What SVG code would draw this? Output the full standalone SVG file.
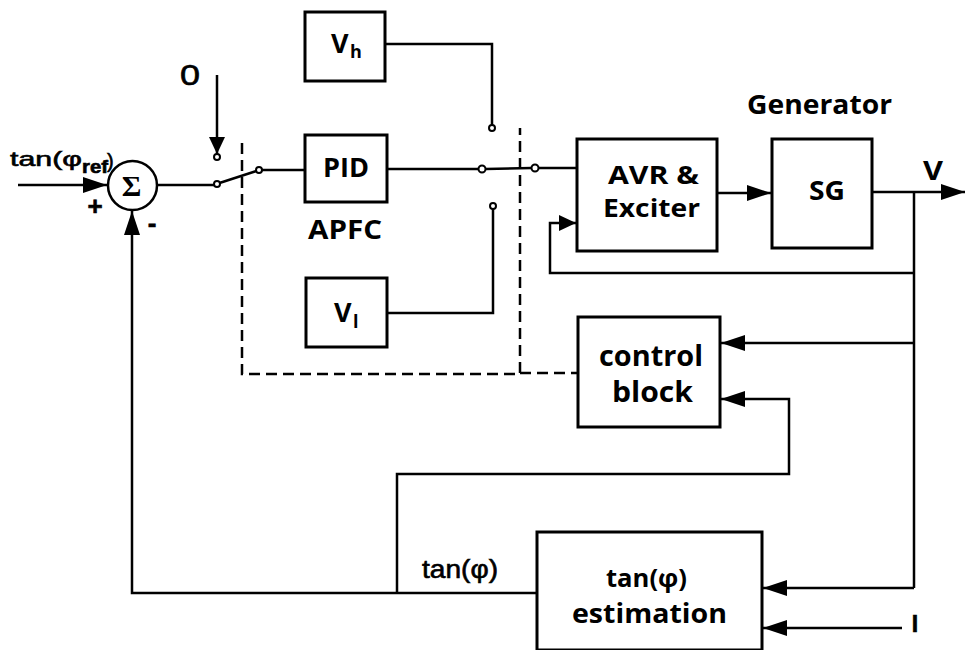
<svg xmlns="http://www.w3.org/2000/svg" width="965" height="650" viewBox="0 0 965 650">
<defs>
<style>
.box{fill:#fff;stroke:#000;stroke-width:3}
.ln{fill:none;stroke:#000;stroke-width:2.5}
.dash{fill:none;stroke:#000;stroke-width:2.5;stroke-dasharray:11 6}
.pt{fill:#fff;stroke:#000;stroke-width:2}
.lb{font-family:"Open Sans","DejaVu Sans",sans-serif;font-weight:bold;fill:#000}
.ar{font-family:"Liberation Sans",Arial,sans-serif;fill:#000;stroke:#000;stroke-width:0.6}
</style>
<marker id="a" markerUnits="userSpaceOnUse" markerWidth="24" markerHeight="16" refX="24" refY="8" orient="auto"><path d="M0,0 L24,8 L0,16 z" fill="#000"/></marker>
<marker id="s" markerUnits="userSpaceOnUse" markerWidth="17" markerHeight="16" refX="17" refY="8" orient="auto"><path d="M0,0 L17,8 L0,16 z" fill="#000"/></marker>
</defs>
<rect width="965" height="650" fill="#fff"/>

<g id="connectors">
<path class="ln" d="M18,185 H107" marker-end="url(#a)"/>
<path class="ln" d="M157,185 H214"/>
<path class="ln" d="M219.5,183 L256.5,171"/>
<path class="ln" d="M262,170 H305"/>
<path class="ln" d="M217,75 V154" marker-end="url(#s)"/>
<path class="ln" d="M387,169 H478.5"/>
<path class="ln" d="M485.5,169 L531.5,168"/>
<path class="ln" d="M538.5,168 H577"/>
<path class="ln" d="M385,44 H492 V125"/>
<path class="ln" d="M387,313 H493 V209"/>
<path class="ln" d="M717,193 H771" marker-end="url(#a)"/>
<path class="ln" d="M872,192 H965" marker-end="url(#a)"/>
<path class="ln" d="M914,192 V588"/>
<path class="ln" d="M914,273 H550 V223 H576" marker-end="url(#s)"/>
<path class="ln" d="M914,343 H721" marker-end="url(#a)"/>
<path class="ln" d="M397,593 V474 H789 V399 H721" marker-end="url(#a)"/>
<path class="ln" d="M914,588 H763" marker-end="url(#a)"/>
<path class="ln" d="M902,628 H763" marker-end="url(#a)"/>
<path class="ln" d="M537,593 H132 V211" marker-end="url(#a)"/>
<path class="dash" d="M242,143 V374 H520 V128 M520,373 H578"/>
</g>

<g id="switch-in">
<circle class="pt" cx="217" cy="157" r="3"/>
<circle class="pt" cx="217" cy="184" r="3"/>
<circle class="pt" cx="259" cy="170" r="3"/>
</g>
<g id="switch-out">
<circle class="pt" cx="492" cy="128" r="3"/>
<circle class="pt" cx="482" cy="169" r="3.5"/>
<circle class="pt" cx="535" cy="168" r="3.5"/>
<circle class="pt" cx="493" cy="206" r="3"/>
</g>

<g id="sum">
<circle cx="132.5" cy="185.5" r="24.5" fill="#fff" stroke="#000" stroke-width="2.5"/>
<text x="131.5" y="196" text-anchor="middle" font-family="'Liberation Serif',serif" font-weight="bold" font-size="30">Σ</text>
</g>

<g id="vh">
<rect class="box" x="305" y="12" width="80" height="69"/>
<text class="lb" x="331" y="53" font-size="27">V</text>
<text class="lb" x="350" y="58" font-size="18">h</text>
</g>
<g id="pid">
<rect class="box" x="305" y="135" width="82" height="67"/>
<text class="lb" x="323" y="177" font-size="27" textLength="46" lengthAdjust="spacingAndGlyphs">PID</text>
</g>
<g id="vl">
<rect class="box" x="306" y="278" width="81" height="69"/>
<text class="lb" x="334" y="322" font-size="27">V</text>
<text class="lb" x="353" y="328" font-size="18">l</text>
</g>
<text class="lb" x="308" y="239" font-size="26" textLength="74" lengthAdjust="spacingAndGlyphs">APFC</text>

<g id="avr">
<rect class="box" x="577" y="139" width="140" height="112"/>
<text class="lb" x="608" y="184" font-size="25" textLength="91" lengthAdjust="spacingAndGlyphs">AVR &amp;</text>
<text class="lb" x="603" y="217" font-size="25" textLength="97" lengthAdjust="spacingAndGlyphs">Exciter</text>
</g>
<g id="sg">
<rect class="box" x="772" y="139" width="100" height="109"/>
<text class="lb" x="809" y="200" font-size="27" textLength="36" lengthAdjust="spacingAndGlyphs">SG</text>
</g>
<text class="lb" x="747" y="114" font-size="27" textLength="145" lengthAdjust="spacingAndGlyphs">Generator</text>
<text class="lb" x="923" y="180" font-size="27" textLength="20" lengthAdjust="spacingAndGlyphs">V</text>

<g id="control">
<rect class="box" x="578" y="317" width="142" height="110"/>
<text class="lb" x="599" y="366" font-size="28" textLength="104" lengthAdjust="spacingAndGlyphs">control</text>
<text class="lb" x="612" y="402" font-size="28" textLength="81" lengthAdjust="spacingAndGlyphs">block</text>
</g>
<g id="estimation">
<rect class="box" x="537" y="532" width="225" height="118"/>
<text class="lb" x="606" y="587" font-size="25" textLength="81" lengthAdjust="spacingAndGlyphs">tan(φ)</text>
<text class="lb" x="572" y="623" font-size="26" textLength="155" lengthAdjust="spacingAndGlyphs">estimation</text>
</g>

<g id="labels">
<text class="ar" x="10" y="166" font-size="21" textLength="72" lengthAdjust="spacingAndGlyphs">tan(φ</text>
<text class="ar" x="82" y="173" font-size="18" font-weight="bold" textLength="26" lengthAdjust="spacingAndGlyphs">ref</text>
<text class="ar" x="107" y="168" font-size="20">)</text>
<text class="ar" x="180" y="85" font-size="30" textLength="20" lengthAdjust="spacingAndGlyphs">0</text>
<text class="ar" x="95" y="215" text-anchor="middle" font-size="26" font-weight="bold">+</text>
<text class="ar" x="152" y="232" text-anchor="middle" font-size="26" font-weight="bold">-</text>
<text class="ar" x="422" y="578" font-size="25" textLength="76" lengthAdjust="spacingAndGlyphs">tan(φ)</text>
<text class="ar" x="915" y="632" text-anchor="middle" font-size="23" font-weight="bold">I</text>
</g>
</svg>
